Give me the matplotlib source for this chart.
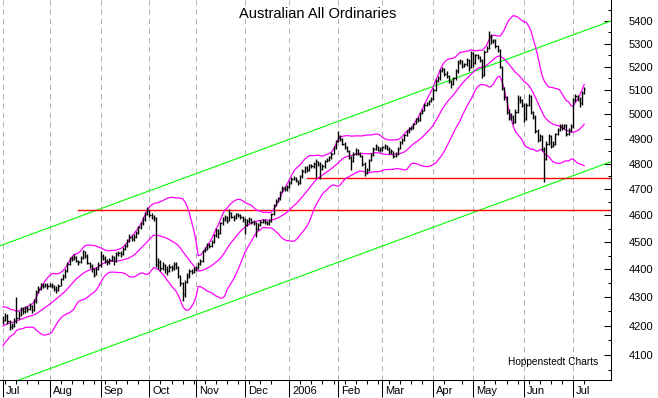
import numpy as np
import pandas as pd
import matplotlib
matplotlib.use('Agg')
import matplotlib.pyplot as plt
import matplotlib.transforms as mtransforms
from matplotlib.ticker import NullFormatter

plt.rcParams['font.family'] = ['Liberation Sans', 'DejaVu Sans']

# trading calendar of the chart (weekdays, minus these holidays)
holidays = ['2005-12-26', '2005-12-27', '2006-04-14', '2006-04-17']
month_labels = ['Jul', 'Aug', 'Sep', 'Oct', 'Nov', 'Dec', '2006',
                'Feb', 'Mar', 'Apr', 'May', 'Jun', 'Jul']

# daily closes, Jul 2005 .. Jul 2006
closes = [
    # Jul
    4220, 4235, 4215, 4195, 4200, 4215, 4225, 4240, 4255, 4250, 4262, 4258, 4270, 4255, 4285, 4320, 4330, 4345, 4340, 4345, 4340,
    # Aug
    4345, 4340, 4330, 4325, 4340, 4365, 4375, 4395, 4420, 4438, 4442, 4445, 4430, 4425, 4440, 4465, 4450, 4422, 4412, 4400, 4380, 4400, 4415,
    # Sep
    4450, 4440, 4430, 4425, 4435, 4445, 4430, 4455, 4460, 4455, 4475, 4485, 4505, 4520, 4510, 4520, 4535, 4555, 4570, 4585, 4605, 4620,
    # Oct
    4600, 4595, 4590, 4420, 4425, 4405, 4415, 4400, 4395, 4410, 4405, 4420, 4410, 4375, 4350, 4310, 4355, 4375, 4395, 4390, 4400,
    # Nov
    4405, 4420, 4430, 4465, 4475, 4490, 4485, 4500, 4525, 4545, 4535, 4570, 4585, 4595, 4580, 4610, 4595, 4590, 4605, 4600, 4595, 4585,
    # Dec
    4565, 4580, 4585, 4575, 4570, 4550, 4565, 4575, 4580, 4575, 4570, 4580, 4605, 4640, 4655, 4665, 4690, 4705, 4700, 4710,
    # Jan
    4725, 4740, 4745, 4735, 4725, 4750, 4770, 4785, 4775, 4795, 4790, 4800, 4810, 4800, 4780, 4790, 4810, 4815, 4825, 4840, 4865, 4890,
    # Feb
    4910, 4900, 4880, 4865, 4850, 4825, 4810, 4840, 4855, 4840, 4830, 4800, 4765, 4775, 4815, 4835, 4860, 4870, 4855, 4860,
    # Mar
    4865, 4870, 4860, 4845, 4850, 4830, 4840, 4860, 4885, 4895, 4915, 4930, 4940, 4945, 4960, 4980, 4975, 5005, 5015, 5040, 5045, 5055, 5065,
    # Apr
    5100, 5140, 5150, 5185, 5190, 5170, 5160, 5140, 5125, 5150, 5180, 5220, 5225, 5205, 5210, 5230, 5200, 5260,
    # May
    5215, 5250, 5240, 5230, 5165, 5265, 5280, 5335, 5310, 5315, 5290, 5270, 5200, 5110, 5070, 5010, 4985, 4990, 4970, 5010, 5065, 5060, 5040,
    # Jun
    4980, 5040, 5075, 5010, 4990, 4930, 4895, 4910, 4860, 4820, 4880, 4910, 4870, 4880, 4920, 4935, 4950, 4945, 4955, 4920, 4935, 4950,
    # Jul
    5060, 5075, 5065, 5045, 5090, 5105,
]

highs = [
    4235, 4245, 4240, 4220, 4210, 4225, 4300, 4250, 4265, 4265, 4270, 4268, 4280, 4272, 4292, 4325, 4340, 4352, 4350, 4352, 4350,
    4352, 4350, 4345, 4338, 4348, 4370, 4382, 4400, 4425, 4445, 4450, 4455, 4448, 4435, 4448, 4472, 4468, 4455, 4428, 4418, 4405, 4408, 4425,
    4468, 4455, 4448, 4438, 4442, 4452, 4450, 4462, 4468, 4465, 4480, 4492, 4512, 4528, 4525, 4528, 4542, 4560, 4575, 4592, 4612, 4630,
    4622, 4610, 4602, 4592, 4440, 4432, 4425, 4420, 4412, 4418, 4415, 4428, 4425, 4412, 4380, 4355, 4362, 4385, 4402, 4400, 4410,
    4412, 4425, 4438, 4470, 4482, 4498, 4495, 4508, 4530, 4552, 4550, 4575, 4592, 4600, 4598, 4625, 4612, 4600, 4610, 4608, 4605, 4598,
    4590, 4588, 4592, 4590, 4582, 4575, 4572, 4582, 4588, 4585, 4580, 4588, 4610, 4645, 4662, 4672, 4695, 4712, 4712, 4718,
    4732, 4748, 4752, 4748, 4738, 4755, 4778, 4792, 4790, 4800, 4800, 4808, 4818, 4812, 4805, 4798, 4815, 4822, 4830, 4848, 4870, 4895,
    4930, 4915, 4905, 4885, 4870, 4855, 4830, 4845, 4862, 4858, 4845, 4835, 4805, 4782, 4820, 4842, 4865, 4878, 4872, 4868,
    4872, 4878, 4875, 4865, 4858, 4852, 4848, 4865, 4890, 4902, 4920, 4935, 4948, 4952, 4965, 4985, 4988, 5010, 5020, 5045, 5052, 5060, 5072,
    5108, 5148, 5160, 5192, 5198, 5195, 5180, 5165, 5145, 5158, 5188, 5230, 5235, 5230, 5218, 5238, 5235, 5268,
    5265, 5255, 5255, 5248, 5235, 5270, 5290, 5355, 5340, 5322, 5318, 5295, 5275, 5205, 5115, 5075, 5020, 5005, 4998, 5020, 5080, 5075, 5065,
    5045, 5048, 5085, 5080, 5015, 4995, 4938, 4920, 4915, 4868, 4890, 4920, 4915, 4890, 4925, 4942, 4958, 4958, 4962, 4958, 4942, 4958,
    5068, 5085, 5082, 5070, 5098, 5112,
]

lows = [
    4205, 4215, 4205, 4185, 4188, 4195, 4210, 4222, 4235, 4240, 4245, 4248, 4255, 4245, 4250, 4280, 4315, 4325, 4332, 4335, 4330,
    4335, 4332, 4322, 4315, 4322, 4338, 4360, 4370, 4390, 4415, 4430, 4435, 4425, 4415, 4422, 4438, 4442, 4418, 4405, 4390, 4372, 4378, 4398,
    4410, 4432, 4422, 4415, 4420, 4430, 4415, 4428, 4448, 4445, 4452, 4470, 4480, 4500, 4502, 4505, 4515, 4530, 4550, 4565, 4580, 4600,
    4592, 4585, 4580, 4410, 4400, 4395, 4398, 4385, 4380, 4390, 4395, 4398, 4400, 4368, 4340, 4285, 4300, 4350, 4370, 4382, 4385,
    4392, 4400, 4415, 4428, 4462, 4470, 4478, 4480, 4498, 4520, 4515, 4530, 4565, 4580, 4570, 4578, 4590, 4580, 4585, 4592, 4585, 4575,
    4530, 4560, 4572, 4568, 4562, 4520, 4545, 4560, 4570, 4568, 4562, 4565, 4575, 4600, 4635, 4650, 4660, 4688, 4692, 4695,
    4705, 4720, 4735, 4728, 4718, 4722, 4745, 4765, 4768, 4772, 4782, 4785, 4745, 4790, 4740, 4775, 4785, 4805, 4810, 4820, 4838, 4860,
    4885, 4892, 4875, 4860, 4845, 4820, 4775, 4805, 4835, 4835, 4825, 4790, 4750, 4760, 4770, 4810, 4830, 4855, 4850, 4848,
    4852, 4860, 4855, 4838, 4840, 4822, 4828, 4835, 4858, 4880, 4892, 4910, 4925, 4935, 4940, 4958, 4968, 4972, 5000, 5012, 5035, 5040, 5050,
    5060, 5095, 5135, 5145, 5178, 5162, 5150, 5130, 5110, 5120, 5145, 5175, 5210, 5195, 5198, 5205, 5180, 5195,
    5200, 5210, 5232, 5222, 5150, 5160, 5262, 5275, 5300, 5302, 5282, 5262, 5195, 5100, 5060, 5000, 4975, 4975, 4960, 4965, 5005, 5045, 5030,
    4970, 4975, 5035, 5000, 4980, 4925, 4885, 4890, 4850, 4730, 4815, 4875, 4862, 4865, 4875, 4915, 4930, 4935, 4940, 4912, 4915, 4928,
    4945, 5052, 5055, 5030, 5040, 5085,
]

# June 2005 closes, only used to start the bollinger bands
prior_closes = [4130, 4150, 4145, 4165, 4175, 4160, 4185, 4195, 4205, 4190,
                4210, 4220, 4215, 4230, 4240, 4225, 4235, 4245, 4230]

# trend channel values at the left and right edge of the plot
channel_upper = [4486, 5400]
channel_lower = [3993, 4808]

# horizontal support lines: level and first day
support_levels = [4620, 4745]
support_start = ['2005-08-18', '2006-01-12']

dates = pd.bdate_range('2005-07-01', '2006-07-10')
dates = dates.drop(pd.to_datetime(holidays))
n = len(dates)
x = np.arange(n)

# bollinger bands 20 / 2
s = pd.Series(prior_closes + closes, dtype=float)
mid = s.rolling(20).mean().values[-n:]
sd = s.rolling(20).std(ddof=0).values[-n:]
upper = mid + 2 * sd
lower = mid - 2 * sd

fig = plt.figure(figsize=(6.58, 3.98), dpi=100)
ax = fig.add_axes([0, 18 / 398, 611 / 658, 380 / 398])
ax.set_yscale('log')
x0, x1 = -1.35, 274.1
ax.set_xlim(x0, x1)
ax.set_ylim(4016, 5494)

month_starts = [i for i in range(n) if i == 0 or dates[i].month != dates[i - 1].month]
mondays = [i for i in range(n) if dates[i].dayofweek == 0 and i not in month_starts]

for m in month_starts:
    ax.axvline(m, color='#b4b4b4', lw=0.75, dashes=(5, 4), zorder=1)

ax.plot([x0, x1], channel_upper, color='#00ff00', lw=0.8, zorder=2)
ax.plot([x0, x1], channel_lower, color='#00ff00', lw=0.8, zorder=2)
for lev, d in zip(support_levels, support_start):
    i0 = dates.get_loc(pd.Timestamp(d))
    ax.plot([i0, x1], [lev, lev], color='#ff0000', lw=1.0, zorder=2)

for band in (upper, mid, lower):
    ax.plot(x, band, color='#ff00ff', lw=0.9, zorder=3)

ax.vlines(x, lows, highs, color='black', lw=1.0, zorder=4)
ax.hlines(closes, x, x + 0.55, color='black', lw=1.0, zorder=4)

# y axis on the right
yt = list(range(4100, 5401, 100))
ax.yaxis.tick_right()
ax.set_yticks(yt)
ax.set_yticklabels([str(v) for v in yt])
ax.set_yticks([v for v in range(4050, 5451, 100)], minor=True)
ax.yaxis.set_minor_formatter(NullFormatter())
ax.tick_params(axis='y', which='major', direction='in', length=5, width=0.75,
               pad=13, labelsize=8)
ax.tick_params(axis='y', which='minor', direction='in', length=2.5, width=0.75)

# x axis: long month ticks, short weekly ticks, labels next to month tick
ax.set_xticks(month_starts)
ax.set_xticklabels([])
ax.set_xticks(mondays, minor=True)
ax.tick_params(axis='x', which='major', direction='out', length=12.5, width=0.75)
ax.tick_params(axis='x', which='minor', direction='out', length=3, width=0.75)
lab_tr = mtransforms.offset_copy(ax.get_xaxis_transform(), fig=fig, x=3, y=-11, units='dots')
for m, lab in zip(month_starts, month_labels):
    ax.text(m, 0, lab, transform=lab_tr, ha='left', va='center', fontsize=8)

for side in ('top', 'left'):
    ax.spines[side].set_visible(False)
for side in ('right', 'bottom'):
    ax.spines[side].set_linewidth(0.75)

fig.text(318 / 658, 1 - 14 / 398, 'Australian All Ordinaries', ha='center', va='center', fontsize=10.5)
fig.text(598 / 658, 1 - 362 / 398, 'Hoppenstedt Charts', ha='right', va='center', fontsize=7.3)

fig.savefig('out.png', dpi=100)
